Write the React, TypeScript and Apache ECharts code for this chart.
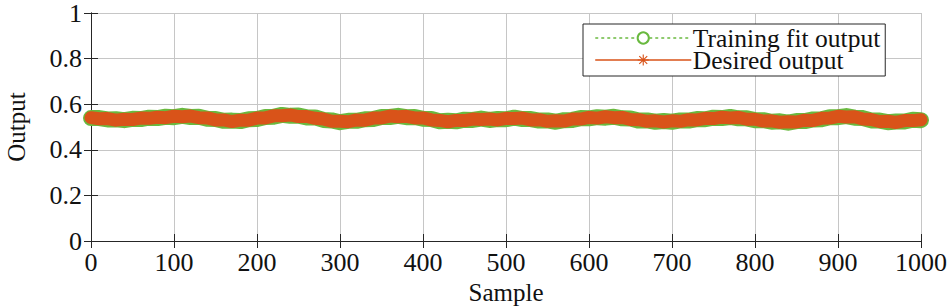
import React, { useEffect, useRef } from "react";
import * as echarts from "echarts";

const samples: number[] = Array.from({ length: 101 }, (_, i) => i * 10);

const desiredOutput: number[] = [
  0.541, 0.536, 0.537, 0.530, 0.534, 0.533, 0.539, 0.538, 0.543, 0.541,
  0.547, 0.545, 0.548, 0.541, 0.540, 0.531, 0.531, 0.524, 0.530, 0.530,
  0.539, 0.540, 0.549, 0.549, 0.553, 0.546, 0.546, 0.538, 0.535, 0.525,
  0.525, 0.523, 0.531, 0.530, 0.539, 0.540, 0.548, 0.545, 0.547, 0.540,
  0.540, 0.531, 0.529, 0.523, 0.529, 0.528, 0.535, 0.533, 0.535, 0.531,
  0.538, 0.537, 0.539, 0.531, 0.532, 0.525, 0.527, 0.526, 0.535, 0.535,
  0.542, 0.539, 0.545, 0.541, 0.542, 0.533, 0.532, 0.525, 0.527, 0.522,
  0.527, 0.525, 0.532, 0.531, 0.538, 0.537, 0.543, 0.540, 0.542, 0.534,
  0.534, 0.526, 0.527, 0.521, 0.523, 0.522, 0.530, 0.529, 0.538, 0.539,
  0.547, 0.544, 0.545, 0.535, 0.533, 0.524, 0.525, 0.520, 0.528, 0.528,
  0.532,
];

const trainingFit: number[] = [
  0.539, 0.539, 0.533, 0.534, 0.530, 0.536, 0.535, 0.541, 0.539, 0.545,
  0.543, 0.549, 0.544, 0.545, 0.536, 0.535, 0.527, 0.528, 0.526, 0.534,
  0.535, 0.544, 0.545, 0.553, 0.549, 0.550, 0.542, 0.542, 0.531, 0.529,
  0.521, 0.527, 0.527, 0.534, 0.535, 0.544, 0.544, 0.549, 0.543, 0.544,
  0.536, 0.535, 0.525, 0.527, 0.525, 0.532, 0.531, 0.537, 0.531, 0.535,
  0.534, 0.541, 0.535, 0.535, 0.528, 0.529, 0.523, 0.530, 0.531, 0.539,
  0.538, 0.543, 0.541, 0.545, 0.538, 0.537, 0.528, 0.529, 0.523, 0.526,
  0.523, 0.529, 0.528, 0.535, 0.534, 0.541, 0.539, 0.544, 0.538, 0.538,
  0.530, 0.530, 0.523, 0.525, 0.519, 0.526, 0.526, 0.533, 0.534, 0.543,
  0.543, 0.548, 0.541, 0.539, 0.529, 0.528, 0.521, 0.524, 0.524, 0.532,
  0.530,
];

const seriesNames: string[] = ["Training fit output", "Desired output"];
const xTicks: number[] = [0, 100, 200, 300, 400, 500, 600, 700, 800, 900, 1000];
const yTicks: number[] = [0, 0.2, 0.4, 0.6, 0.8, 1];

const GREEN = "#69B93F";
const ORANGE = "#D95319";
const AXIS = "#262626";
const GRIDC = "#c6c6c6";
const FONT = "'Liberation Serif', 'Times New Roman', serif";

const ASTERISK =
  "path://M9,0h2v20h-2z M0,9h20v2h-20z M2.2,3.6l1.4,-1.4l14.2,14.2l-1.4,1.4z M16.4,2.2l1.4,1.4l-14.2,14.2l-1.4,-1.4z";

export default function App() {
  const ref = useRef<HTMLDivElement>(null);

  useEffect(() => {
    if (!ref.current) return;
    const chart = echarts.init(ref.current, undefined, { renderer: "svg" });

    const fitData = samples.map((s, i) => [s, trainingFit[i]]);
    const desData = samples.map((s, i) => [s, desiredOutput[i]]);

    const baseX = {
      type: "value" as const,
      min: xTicks[0],
      max: xTicks[xTicks.length - 1],
      interval: 100,
    };
    const baseY = {
      type: "value" as const,
      min: yTicks[0],
      max: yTicks[yTicks.length - 1],
      interval: 0.2,
    };

    chart.setOption({
      animation: false,
      backgroundColor: "#ffffff",
      textStyle: { fontFamily: FONT },
      grid: {
        left: 91,
        right: 29,
        top: 13,
        bottom: 65,
        containLabel: false,
        outerBoundsMode: "none",
      },
      legend: {
        orient: "vertical",
        left: 583,
        top: 24,
        padding: [1, 5, 3, 12],
        itemGap: -4,
        itemWidth: 95,
        itemHeight: 14,
        borderColor: AXIS,
        borderWidth: 1,
        backgroundColor: "#ffffff",
        textStyle: {
          fontFamily: FONT,
          fontSize: 25.5,
          lineHeight: 20,
          color: "#111111",
          padding: [0, 0, 0, -3],
        },
        data: [
          {
            name: seriesNames[0],
            itemStyle: { color: GREEN, borderColor: GREEN, borderWidth: 1.5 },
            lineStyle: { width: 1.3, type: [2, 4], color: GREEN },
          },
          {
            name: seriesNames[1],
            itemStyle: { color: ORANGE },
            lineStyle: { width: 1.5, type: "solid", color: ORANGE },
          },
        ],
      },
      xAxis: [
        {
          ...baseX,
          position: "bottom",
          name: "Sample",
          nameLocation: "middle",
          nameGap: 37,
          nameTextStyle: { fontFamily: FONT, fontSize: 25, color: "#111111", lineHeight: 25 },
          axisLine: { show: true, lineStyle: { color: AXIS, width: 1 } },
          axisTick: { show: true, inside: true, length: 7, lineStyle: { color: AXIS } },
          axisLabel: {
            fontFamily: FONT,
            fontSize: 26,
            lineHeight: 24,
            color: "#111111",
            margin: 9,
            formatter: (v: number) => String(v),
          },
          splitLine: { show: true, lineStyle: { color: GRIDC, width: 1 } },
        },
        {
          ...baseX,
          position: "top",
          axisLine: { show: true, lineStyle: { color: AXIS, width: 1 } },
          axisTick: { show: true, inside: true, length: 7, lineStyle: { color: AXIS } },
          axisLabel: { show: false },
          splitLine: { show: false },
        },
      ],
      yAxis: [
        {
          ...baseY,
          position: "left",
          name: "Output",
          nameLocation: "middle",
          nameGap: 62,
          nameTextStyle: { fontFamily: FONT, fontSize: 25, color: "#111111" },
          axisLine: { show: true, lineStyle: { color: AXIS, width: 1 } },
          axisTick: { show: true, inside: true, length: 7, lineStyle: { color: AXIS } },
          axisLabel: {
            fontFamily: FONT,
            fontSize: 26,
            lineHeight: 22,
            color: "#111111",
            margin: 9,
            formatter: (v: number) => String(parseFloat(v.toFixed(1))),
          },
          splitLine: { show: true, lineStyle: { color: GRIDC, width: 1 } },
        },
        {
          ...baseY,
          position: "right",
          axisLine: { show: true, lineStyle: { color: AXIS, width: 1 } },
          axisTick: { show: true, inside: true, length: 7, lineStyle: { color: AXIS } },
          axisLabel: { show: false },
          splitLine: { show: false },
        },
      ],
      series: [
        {
          name: seriesNames[0],
          type: "line",
          xAxisIndex: 0,
          yAxisIndex: 0,
          data: fitData,
          symbol: "emptyCircle",
          symbolSize: 12,
          showSymbol: false,
          color: GREEN,
          lineStyle: { width: 16, color: GREEN, cap: "round", join: "round" },
          z: 2,
        },
        {
          name: seriesNames[1],
          type: "line",
          xAxisIndex: 0,
          yAxisIndex: 0,
          data: desData,
          symbol: ASTERISK,
          symbolSize: 12,
          showSymbol: false,
          color: ORANGE,
          lineStyle: { width: 13, color: ORANGE, cap: "round", join: "round" },
          z: 3,
        },
      ],
    });

    return () => chart.dispose();
  }, []);

  return (
    <div
      ref={ref}
      style={{ position: "fixed", left: 0, top: 0, width: 950, height: 306 }}
    />
  );
}
